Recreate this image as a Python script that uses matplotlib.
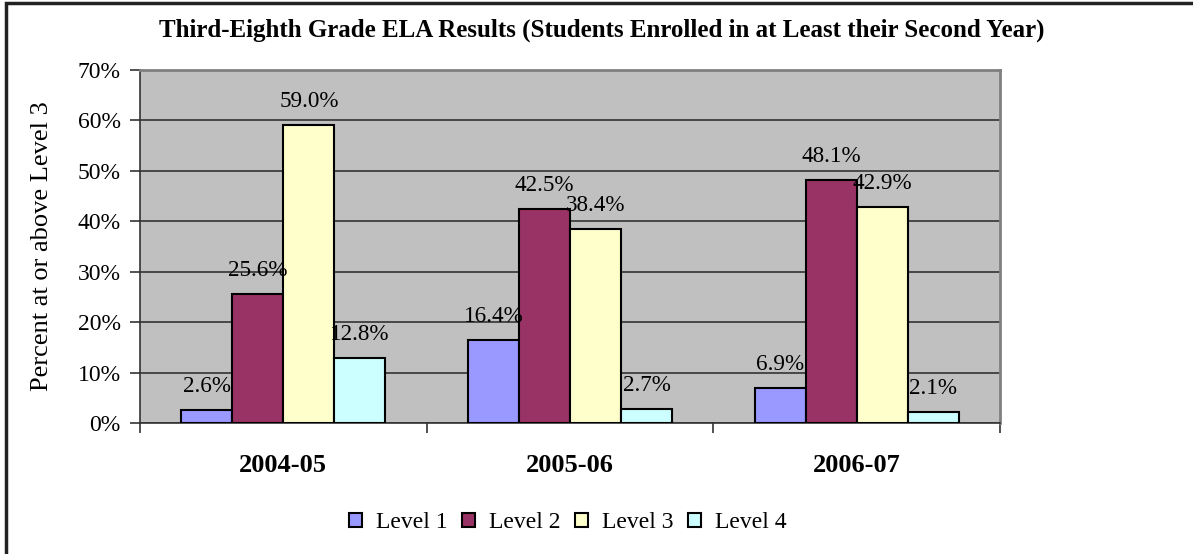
import matplotlib
matplotlib.use("Agg")
import matplotlib.pyplot as plt
import numpy as np
from matplotlib.patches import Rectangle, Patch

years = ["2004-05", "2005-06", "2006-07"]
series_names = ["Level 1", "Level 2", "Level 3", "Level 4"]
level1 = [2.6, 16.4, 6.9]
level2 = [25.6, 42.5, 48.1]
level3 = [59.0, 38.4, 42.9]
level4 = [12.8, 2.7, 2.1]
colors = ["#9999FF", "#993366", "#FFFFCC", "#CCFFFF"]
yticks = [0, 10, 20, 30, 40, 50, 60, 70]
title = "Third-Eighth Grade ELA Results (Students Enrolled in at Least their Second Year)"
ylabel = "Percent at or above Level 3"

plt.rcParams["font.family"] = ["Liberation Serif", "DejaVu Serif"]

W, H = 1193, 554
fig = plt.figure(figsize=(W / 100, H / 100), dpi=100)
ax = fig.add_axes([140 / W, 1 - 423 / H, 860 / W, 353 / H])
ax.set_facecolor("#C0C0C0")

data = [level1, level2, level3, level4]
x = np.arange(len(years))
bw = 0.178
for j, (vals, c, name) in enumerate(zip(data, colors, series_names)):
    pos = x + (j - 1.5) * bw
    ax.bar(pos, vals, width=bw, color=c, edgecolor="black", linewidth=1.5, label=name, zorder=3)
    for px, v in zip(pos, vals):
        ax.annotate(f"{v:.1f}%", (px, v), xytext=(0, 13), textcoords="offset points",
                    ha="center", va="baseline", fontsize=16.7, color="black", zorder=4)

ax.set_xlim(-0.5, 2.5)
ax.set_ylim(0, 70)
ax.set_yticks(yticks)
ax.set_yticklabels([f"{t}%" for t in yticks], fontsize=17)
ax.yaxis.grid(True, color="#333333", linewidth=1.2, zorder=1)
ax.set_axisbelow(True)
ax.tick_params(axis="y", length=7, width=1.2, color="#333333", pad=7, direction="out")

ax.set_xticks(x)
ax.set_xticklabels(years, fontsize=19, fontweight="bold")
ax.set_xticks(np.arange(-0.5, 3.0, 1.0), minor=True)
ax.tick_params(axis="x", which="major", length=0, pad=22)
ax.tick_params(axis="x", which="minor", length=7, width=1.2, color="#333333", direction="out")

for s in ["top", "right"]:
    ax.spines[s].set_color("#808080")
    ax.spines[s].set_linewidth(2)
for s in ["left", "bottom"]:
    ax.spines[s].set_color("#333333")
    ax.spines[s].set_linewidth(1.2)

ax.set_ylabel(ylabel, fontsize=19)
ax.yaxis.set_label_coords((53 - 140) / 860, 0.5)
fig.text(602 / W, 1 - 30 / H, title, ha="center", va="center", fontsize=18, fontweight="bold")

handles = [Patch(facecolor=c, edgecolor="black", linewidth=1.5, label=n) for c, n in zip(colors, series_names)]
fig.legend(handles=handles, loc="center", bbox_to_anchor=(568 / W, 1 - 523 / H), ncol=4,
           frameon=False, fontsize=17, handlelength=0.55, handleheight=0.55, handletextpad=0.6,
           columnspacing=0.6)

fig.patches.append(Rectangle((6 / W, -0.1), 1.2, 1 - 3 / H + 0.1, transform=fig.transFigure,
                             fill=False, edgecolor="#222222", linewidth=2.5, clip_on=False))

fig.savefig("out.png", dpi=100)
